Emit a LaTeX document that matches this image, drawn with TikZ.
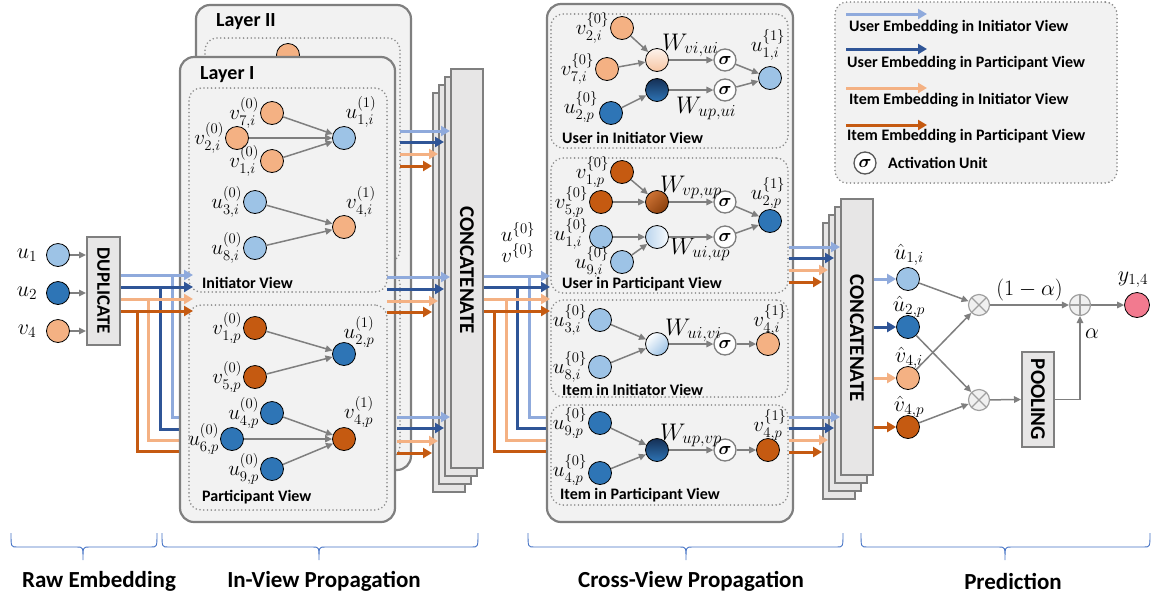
\RequirePackage{fix-cm}
\documentclass[tikz,border=0pt]{standalone}
\usepackage{amsmath}
\usepackage{bm}
\usepackage[no-math]{fontspec}
\setmainfont{Carlito}
\usetikzlibrary{arrows.meta}
\definecolor{cLB}{HTML}{9DC3E6}
\definecolor{cDB}{HTML}{2E75B6}
\definecolor{cLO}{HTML}{F4B183}
\definecolor{cDO}{HTML}{C55A11}
\definecolor{aLB}{HTML}{8FAADC}
\definecolor{aDB}{HTML}{2F5597}
\definecolor{aLO}{HTML}{F4B183}
\definecolor{aDO}{HTML}{C55A11}
\definecolor{boxfill}{HTML}{F2F2F2}
\definecolor{boxline}{HTML}{7F7F7F}
\definecolor{catfill}{HTML}{E7E6E6}
\definecolor{conn}{HTML}{7F7F7F}
\definecolor{dotc}{HTML}{8C8C8C}
\definecolor{pinkc}{HTML}{F27A8F}
\definecolor{bracec}{HTML}{4472C4}
\definecolor{opfill}{HTML}{F0F0F0}
\definecolor{opline}{HTML}{A0A0A0}
\definecolor{legsig}{HTML}{595959}
\definecolor{navy}{HTML}{152F55}
\newcommand\mlab{\fontsize{21}{24}\selectfont}
\newcommand\wlab{\fontsize{24}{27}\selectfont}
\newcommand\rlab{\fontsize{22}{25}\selectfont}
\newcommand\siglab{\fontsize{18}{20}\selectfont}
\newcommand\vlab{\bfseries\fontsize{16}{19}\selectfont}
\newcommand\laylab{\bfseries\fontsize{20}{24}\selectfont}
\newcommand\catlab{\bfseries\fontsize{21}{24}\selectfont}
\newcommand\duplab{\bfseries\fontsize{19}{22}\selectfont}
\newcommand\botlab{\bfseries\fontsize{23}{27}\selectfont}
\newcommand\mybrace[3]{\draw[brc] (#1,533) .. controls (#1,547) .. ({#1+6},547) -- ({#2-6},547) .. controls (#2,547) .. (#2,560) .. controls (#2,547) .. ({#2+6},547) -- ({#3-6},547) .. controls (#3,547) .. (#3,533);}
\begin{document}
\begin{tikzpicture}[x=1pt,y=-1pt,
  bigbox/.style={draw=boxline, line width=2.2pt, fill=boxfill, rounded corners=14pt, inner sep=0pt},
  viewbox/.style={draw=dotc, line width=1.8pt, dash pattern=on 0pt off 3.8pt, line cap=round, rounded corners=12pt, inner sep=0pt},
  catbox/.style={draw=boxline, line width=2pt, fill=catfill, inner sep=0pt},
  cir/.style={circle, draw=black, line width=0.8pt, minimum size=23pt, inner sep=0pt},
  nLB/.style={cir, fill=cLB}, nDB/.style={cir, fill=cDB},
  nLO/.style={cir, fill=cLO}, nDO/.style={cir, fill=cDO},
  sig/.style={circle, draw=boxline, line width=1.3pt, fill=white, minimum size=22pt, inner sep=0pt, font=\siglab},
  opc/.style={circle, draw=opline, line width=1.2pt, fill=opfill, minimum size=21pt, inner sep=0pt},
  ga/.style={draw=conn, line width=1.5pt, -{Triangle[length=7pt,width=6.5pt]}},
  ca/.style={line width=3pt, -{Triangle[length=9pt,width=10pt]}},
  cl/.style={line width=3pt},
  ml/.style={font=\mlab, inner sep=0pt},
  wl/.style={font=\wlab, inner sep=0pt, anchor=base west},
  vl/.style={font=\vlab, inner sep=0pt, anchor=west},
  brc/.style={draw=bracec, line width=0.9pt},
]
\useasboundingbox (0,0) rectangle (1156,598);

% ---------------- raw embedding
\node[nLB] (u1) at (58,255) {};
\node[nDB] (u2) at (58,293) {};
\node[nLO] (v4) at (58,331) {};
\node[font=\rlab, inner sep=0pt] (tu1) at (27,255) {$u_1$};
\node[font=\rlab, inner sep=0pt] (tu2) at (27,293) {$u_2$};
\node[font=\rlab, inner sep=0pt] (tv4) at (27,331) {$v_4$};
\node[catbox, minimum width=33pt, minimum height=108pt] (dup) at (103.5,291) {};
\node[font=\duplab, rotate=-90, inner sep=0pt] (tdup) at (dup.center) {DUPLICATE};
\draw[ga] (u1) -- (u1 -| dup.west);
\draw[ga] (u2) -- (u2 -| dup.west);
\draw[ga] (v4) -- (v4 -| dup.west);

% ---------------- layer II (behind)
\node[bigbox, minimum width=215pt, minimum height=465pt] (L2) at (303.5,237.5) {};
\node[viewbox, minimum width=195pt, minimum height=224pt] (L2i) at (302.5,150) {};
\node[viewbox, minimum width=195pt, minimum height=186pt] (L2p) at (302.5,365) {};
\node[nLO] (L2n) at (288,55) {};
\node[font=\laylab, anchor=west, inner sep=0pt] (tL2) at (216,22) {Layer II};

% branches from duplicate to participant view (under layer I)
\coordinate (bLB) at (172,275);
\coordinate (bDB) at (160,287);
\coordinate (bLO) at (148,299);
\coordinate (bDO) at (137,311);
\draw[cl, aLB] (bLB) |- (181,417);
\draw[cl, aDB] (bDB) |- (181,429);
\draw[cl, aLO] (bLO) |- (181,440);
\draw[cl, aDO] (bDO) |- (181,451);

% ---------------- layer I
\node[bigbox, minimum width=215pt, minimum height=465pt] (L1) at (287.5,289.5) {};
\node[viewbox, minimum width=198pt, minimum height=204pt] (L1i) at (288,190) {};
\node[viewbox, minimum width=198pt, minimum height=205pt] (L1p) at (288,407.5) {};
\node[font=\laylab, anchor=west, inner sep=0pt] (tL1) at (200,75) {Layer I};
\node[vl] (tL1i) at (202,283) {Initiator View};
\node[vl] (tL1p) at (202,497) {Participant View};

\draw[ca, aLB] (dup.east |- bLB) -- (193,275);
\draw[ca, aDB] (dup.east |- bDB) -- (193,287);
\draw[ca, aLO] (dup.east |- bLO) -- (193,299);
\draw[ca, aDO] (dup.east |- bDO) -- (193,311);

% initiator view nodes
\node[nLO] (a7) at (272,113) {};
\node[nLO] (a2) at (237,138) {};
\node[nLO] (a1) at (272,161) {};
\node[nLB] (au1) at (344,138) {};
\node[nLB] (a3) at (255,202) {};
\node[nLB] (a8) at (255,248) {};
\node[nLO] (av4) at (344,227) {};
\node[ml, anchor=east] (ta7) at ([xshift=-1pt]a7.west) {$v^{(0)}_{7,i}$};
\node[ml, anchor=east] (ta2) at ([xshift=-1pt]a2.west) {$v^{(0)}_{2,i}$};
\node[ml, anchor=east] (ta1) at ([xshift=-1pt]a1.west) {$v^{(0)}_{1,i}$};
\node[ml, anchor=east] (ta3) at ([xshift=-1pt]a3.west) {$u^{(0)}_{3,i}$};
\node[ml, anchor=east] (ta8) at ([xshift=-1pt]a8.west) {$u^{(0)}_{8,i}$};
\node[ml] (tau1) at (361,112) {$u^{(1)}_{1,i}$};
\node[ml] (tav4) at (361,202) {$v^{(1)}_{4,i}$};
\draw[ga] (a7) -- (au1);
\draw[ga] (a2) -- (au1);
\draw[ga] (a1) -- (au1);
\draw[ga] (a3) -- (av4);
\draw[ga] (a8) -- (av4);

% participant view nodes
\node[nDO] (p1) at (255,328) {};
\node[nDO] (p5) at (255,377) {};
\node[nDB] (pu2) at (344,354) {};
\node[nDB] (p4) at (272,413) {};
\node[nDB] (p6) at (232,439) {};
\node[nDB] (p9) at (272,469) {};
\node[nDO] (pv4) at (344,439) {};
\node[ml, anchor=east] (tp1) at ([xshift=-1pt]p1.west) {$v^{(0)}_{1,p}$};
\node[ml, anchor=east] (tp5) at ([xshift=-1pt]p5.west) {$v^{(0)}_{5,p}$};
\node[ml, anchor=east] (tp4) at ([xshift=-1pt]p4.west) {$u^{(0)}_{4,p}$};
\node[ml, anchor=east] (tp6) at ([xshift=-1pt]p6.west) {$u^{(0)}_{6,p}$};
\node[ml, anchor=east] (tp9) at ([xshift=-1pt]p9.west) {$u^{(0)}_{9,p}$};
\node[ml] (tpu2) at (359,332) {$u^{(1)}_{2,p}$};
\node[ml] (tpv4) at (359,412) {$v^{(1)}_{4,p}$};
\draw[ga] (p1) -- (pu2);
\draw[ga] (p5) -- (pu2);
\draw[ga] (p4) -- (pv4);
\draw[ga] (p6) -- (pv4);
\draw[ga] (p9) -- (pv4);

% ---------------- concatenate 1
\node[catbox, minimum width=32pt, minimum height=399pt] (c1d) at (449,292.5) {};
\node[catbox, minimum width=32pt, minimum height=399pt] (c1c) at (455,284.5) {};
\node[catbox, minimum width=32pt, minimum height=399pt] (c1b) at (461,276.5) {};
\node[catbox, minimum width=32pt, minimum height=399pt] (c1) at (467,268.5) {};
\node[font=\catlab, rotate=-90, inner sep=0pt] (tc1) at (467,270) {CONCATENATE};

\foreach \ya/\yb/\yc/\yd/\xs in {131/142/154/166/400, 277/289/301/312/387, 417/428/441/453/397}{
  \draw[ca, aLB] (\xs,\ya) -- (c1.west |- 0,\ya);
  \draw[ca, aDB] (\xs,\yb) -- (c1b.west |- 0,\yb);
  \draw[ca, aLO] (\xs,\yc) -- (c1c.west |- 0,\yc);
  \draw[ca, aDO] (\xs,\yd) -- (c1d.west |- 0,\yd);
}

\node[ml] (tu0) at (518,232) {$u^{\{0\}}$};
\node[ml] (tv0) at (518,253) {$v^{\{0\}}$};

% ---------------- cross-view box
\node[bigbox, minimum width=246pt, minimum height=518pt] (X) at (670,263) {};
\node[viewbox, minimum width=237pt, minimum height=134pt] (X1) at (669.5,81) {};
\node[viewbox, minimum width=237pt, minimum height=135pt] (X2) at (669.5,225.5) {};
\node[viewbox, minimum width=237pt, minimum height=97pt] (X3) at (669.5,348.5) {};
\node[viewbox, minimum width=237pt, minimum height=100pt] (X4) at (669.5,455) {};
\node[vl] (tX1) at (562,138) {User in Initiator View};
\node[vl] (tX2) at (562,284) {User in Participant View};
\node[vl] (tX3) at (562,390) {Item in Initiator View};
\node[vl] (tX4) at (560,495) {Item in Participant View};

% concat1 -> cross view
\coordinate (kLB) at (529,276);
\coordinate (kDB) at (517,287);
\coordinate (kLO) at (506,299);
\coordinate (kDO) at (494,311);
\draw[cl, aLB] (kLB) |- (X.west |- 0,417);
\draw[cl, aDB] (kDB) |- (X.west |- 0,428);
\draw[cl, aLO] (kLO) |- (X.west |- 0,440);
\draw[cl, aDO] (kDO) |- (X.west |- 0,451);
\draw[ca, aLB] (c1.east |- kLB) -- (550,276);
\draw[ca, aDB] (c1.east |- kDB) -- (550,287);
\draw[ca, aLO] (c1.east |- kLO) -- (550,299);
\draw[ca, aDO] (c1.east |- kDO) -- (550,311);

% sub 1
\node[nLO] (x2i) at (622,28) {};
\node[nLO] (x7i) at (607,69) {};
\node[nDB] (x2p) at (611,113) {};
\node[cir, top color=cLO!15, bottom color=cLO!75] (m1) at (657,60) {};
\node[cir, top color=navy, bottom color=cDB] (m2) at (657,90) {};
\node[sig] (s1) at (725,60) {$\bm{\sigma}$};
\node[sig] (s2) at (725,90) {$\bm{\sigma}$};
\node[nLB] (o1) at (770,78) {};
\node[ml, anchor=east] (tx2i) at ([xshift=-1pt]x2i.west) {$v^{\{0\}}_{2,i}$};
\node[ml, anchor=east] (tx7i) at ([xshift=-1pt]x7i.west) {$v^{\{0\}}_{7,i}$};
\node[ml, anchor=east] (tx2p) at ([xshift=-1pt,yshift=6pt]x2p.west) {$u^{\{0\}}_{2,p}$};
\node[wl] (w1) at (662,50) {$W_{vi,ui}$};
\node[wl] (w2) at (676,113) {$W_{up,ui}$};
\node[ml] (to1) at (768,45) {$u^{\{1\}}_{1,i}$};
\draw[ga] (x2i) -- (m1);
\draw[ga] (x7i) -- (m1);
\draw[ga] (x2p) -- (m2);
\draw[ga] (m1) -- (s1);
\draw[ga] (m2) -- (s2);
\draw[ga] (s1) -- (o1);
\draw[ga] (s2) -- (o1);

% sub 2
\node[nDO] (y1p) at (622,172) {};
\node[nDO] (y5p) at (601,202) {};
\node[nLB] (y1i) at (601,237) {};
\node[nLB] (y9i) at (622,262) {};
\node[cir, top color=cDO!85!white, bottom color=cDO!70!black, shading angle=45] (m3) at (657,202) {};
\node[cir, left color=cLB!70, right color=cLB!8] (m4) at (657,237) {};
\node[sig] (s3) at (725,202) {$\bm{\sigma}$};
\node[sig] (s4) at (725,237) {$\bm{\sigma}$};
\node[nDB] (o2) at (770,221) {};
\node[ml, anchor=east] (ty1p) at ([xshift=-1pt]y1p.west) {$v^{\{0\}}_{1,p}$};
\node[ml, anchor=east] (ty5p) at ([xshift=-1pt]y5p.west) {$v^{\{0\}}_{5,p}$};
\node[ml, anchor=east] (ty1i) at ([xshift=-1pt,yshift=3pt]y1i.west) {$u^{\{0\}}_{1,i}$};
\node[ml, anchor=east] (ty9i) at ([xshift=-1pt]y9i.west) {$u^{\{0\}}_{9,i}$};
\node[wl] (w3) at (660,192) {$W_{vp,up}$};
\node[wl] (w4) at (670,254) {$W_{ui,up}$};
\node[ml] (to2) at (768,193) {$u^{\{1\}}_{2,p}$};
\draw[ga] (y1p) -- (m3);
\draw[ga] (y5p) -- (m3);
\draw[ga] (y1i) -- (m4);
\draw[ga] (y9i) -- (m4);
\draw[ga] (m3) -- (s3);
\draw[ga] (m4) -- (s4);
\draw[ga] (s3) -- (o2);
\draw[ga] (s4) -- (o2);

% sub 3
\node[nLB] (z3i) at (600,320) {};
\node[nLB] (z8i) at (600,367) {};
\node[cir, top color=white, bottom color=cLB, shading angle=45] (m5) at (657,344) {};
\node[sig] (s5) at (725,344) {$\bm{\sigma}$};
\node[nLO] (o3) at (768,344) {};
\node[ml, anchor=east] (tz3i) at ([xshift=-1pt]z3i.west) {$u^{\{0\}}_{3,i}$};
\node[ml, anchor=east] (tz8i) at ([xshift=-1pt]z8i.west) {$u^{\{0\}}_{8,i}$};
\node[wl] (w5) at (665,335) {$W_{ui,vi}$};
\node[ml] (to3) at (770,320) {$v^{\{1\}}_{4,i}$};
\draw[ga] (z3i) -- (m5);
\draw[ga] (z8i) -- (m5);
\draw[ga] (m5) -- (s5);
\draw[ga] (s5) -- (o3);

% sub 4
\node[nDB] (q9p) at (600,423) {};
\node[nDB] (q4p) at (600,473) {};
\node[cir, top color=navy, bottom color=cDB] (m6) at (657,450) {};
\node[sig] (s6) at (725,450) {$\bm{\sigma}$};
\node[nDO] (o4) at (768,450) {};
\node[ml, anchor=east] (tq9p) at ([xshift=-1pt]q9p.west) {$u^{\{0\}}_{9,p}$};
\node[ml, anchor=east] (tq4p) at ([xshift=-1pt,yshift=3pt]q4p.west) {$u^{\{0\}}_{4,p}$};
\node[wl] (w6) at (660,440) {$W_{up,vp}$};
\node[ml] (to4) at (770,425) {$v^{\{1\}}_{4,p}$};
\draw[ga] (q9p) -- (m6);
\draw[ga] (q4p) -- (m6);
\draw[ga] (m6) -- (s6);
\draw[ga] (s6) -- (o4);

% ---------------- concatenate 2
\node[catbox, minimum width=32pt, minimum height=276pt] (c2d) at (839,361) {};
\node[catbox, minimum width=32pt, minimum height=276pt] (c2c) at (845,353) {};
\node[catbox, minimum width=32pt, minimum height=276pt] (c2b) at (851,345) {};
\node[catbox, minimum width=32pt, minimum height=276pt] (c2) at (857,337) {};
\node[font=\catlab, rotate=-90, inner sep=0pt] (tc2) at (857,338) {CONCATENATE};

\foreach \ya/\yb/\yc/\yd in {247/258/270/282, 417/428/440/452}{
  \draw[ca, aLB] (789,\ya) -- (c2.west |- 0,\ya);
  \draw[ca, aDB] (789,\yb) -- (c2b.west |- 0,\yb);
  \draw[ca, aLO] (789,\yc) -- (c2c.west |- 0,\yc);
  \draw[ca, aDO] (789,\yd) -- (c2d.west |- 0,\yd);
}

% ---------------- prediction
\node[nLB] (h1) at (908,279) {};
\node[nDB] (h2) at (908,327) {};
\node[nLO] (h3) at (908,378) {};
\node[nDO] (h4) at (908,427) {};
\node[ml, font=\rlab] (th1) at (909,255) {$\hat{u}_{1,i}$};
\node[ml, font=\rlab] (th2) at (909,307) {$\hat{u}_{2,p}$};
\node[ml, font=\rlab] (th3) at (909,358) {$\hat{v}_{4,i}$};
\node[ml, font=\rlab] (th4) at (909,407) {$\hat{v}_{4,p}$};
\draw[ca, aLB] (c2.east |- h1) -- (h1);
\draw[ca, aDB] (c2.east |- h2) -- (h2);
\draw[ca, aLO] (c2.east |- h3) -- (h3);
\draw[ca, aDO] (c2.east |- h4) -- (h4);

\node[opc] (ot1) at (979,305) {};
\node[opc] (ot2) at (979,400) {};
\node[opc] (op1) at (1080,305) {};
\draw[opline, line width=1.2pt] (ot1.north west) -- (ot1.south east) (ot1.north east) -- (ot1.south west);
\draw[opline, line width=1.2pt] (ot2.north west) -- (ot2.south east) (ot2.north east) -- (ot2.south west);
\draw[opline, line width=1.2pt] (op1.north) -- (op1.south) (op1.west) -- (op1.east);
\node[cir, fill=pinkc, minimum size=25pt] (yy) at (1137,305) {};
\node[ml, font=\rlab] (tyy) at (1133,280) {$y_{1,4}$};
\node[catbox, minimum width=32pt, minimum height=95pt] (pool) at (1038,399.5) {};
\node[font=\catlab, rotate=-90, inner sep=0pt] (tpool) at (pool.center) {POOLING};

\draw[ga] (h1) -- (ot1);
\draw[ga] (h3) -- (ot1);
\draw[ga] (h2) -- (ot2);
\draw[ga] (h4) -- (ot2);
\draw[ga] (ot1) -- node[above=3pt, font=\rlab, inner sep=0pt] (t1ma) {$(1-\alpha)$} (op1);
\draw[ga] (ot2) -- (pool.west);
\draw[ga] (pool.east) -| (op1.south);
\node[font=\rlab, inner sep=0pt] (talpha) at (1092,334) {$\alpha$};
\draw[ga] (op1) -- (yy);

% ---------------- legend
\node[viewbox, fill=boxfill, minimum width=282pt, minimum height=181pt] (leg) at (976,92.5) {};
\coordinate (g1s) at (846,14);  \coordinate (g1e) at (927,14);
\coordinate (g2s) at (846,49);  \coordinate (g2e) at (927,49);
\coordinate (g3s) at (846,88);  \coordinate (g3e) at (927,88);
\coordinate (g4s) at (846,125); \coordinate (g4e) at (927,125);
\draw[ca, aLB] (g1s) -- (g1e);
\draw[ca, aDB] (g2s) -- (g2e);
\draw[ca, aLO] (g3s) -- (g3e);
\draw[ca, aDO] (g4s) -- (g4e);
\node[vl] (tg1) at (849,27) {User Embedding in Initiator View};
\node[vl] (tg2) at (847,63) {User Embedding in Participant View};
\node[vl] (tg3) at (849,100) {Item Embedding in Initiator View};
\node[vl] (tg4) at (847,136) {Item Embedding in Participant View};
\node[sig, draw=legsig] (gs) at (865,163) {$\bm{\sigma}$};
\node[vl] (tgs) at (888,163) {Activation Unit};

% ---------------- braces
\mybrace{11}{83}{157}
\mybrace{162}{319}{478}
\mybrace{528}{686}{843}
\mybrace{861}{1005}{1150}
\node[font=\botlab, inner sep=0pt] (b1) at (99,581) {Raw Embedding};
\node[font=\botlab, inner sep=0pt] (b2) at (324,581) {In-View Propagation};
\node[font=\botlab, inner sep=0pt] (b3) at (691,581) {Cross-View Propagation};
\node[font=\botlab, inner sep=0pt] (b4) at (1013,581) {Prediction};
\end{tikzpicture}
\end{document}
